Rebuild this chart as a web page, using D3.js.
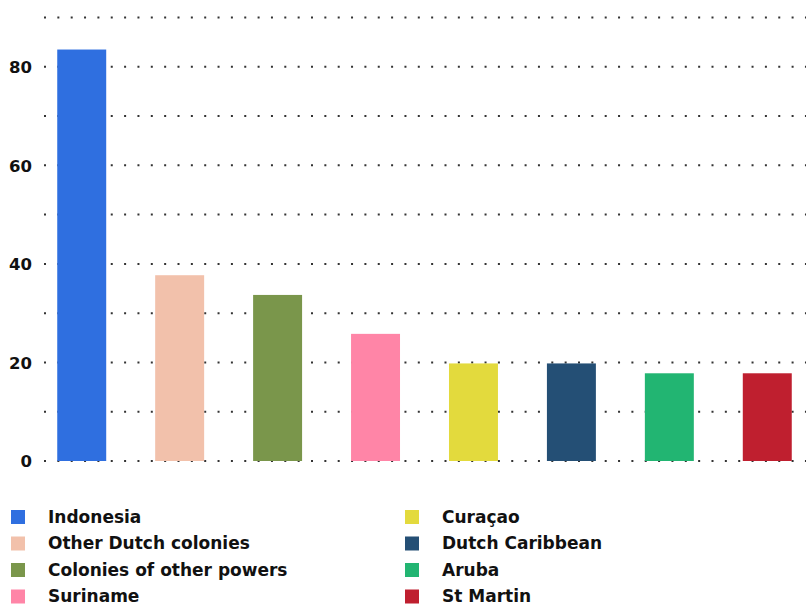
<!DOCTYPE html>
<html>
<head>
<meta charset="utf-8">
<script src="https://cdn.jsdelivr.net/npm/d3@7"></script>
<style>
  html, body { margin: 0; padding: 0; background: #fff; }
  svg { display: block; }
  text { font-family: "DejaVu Sans", sans-serif; font-weight: 700; fill: #111; }
</style>
</head>
<body>
<svg id="chart" width="806" height="607"></svg>
<script>
// Categories, values and colours
const categories = ["Indonesia", "Other Dutch colonies", "Colonies of other powers", "Suriname",
                    "Curaçao", "Dutch Caribbean", "Aruba", "St Martin"];
const values = [83.5, 37.7, 33.7, 25.8, 19.8, 19.8, 17.8, 17.8];
const colors = ["#2f6fe0", "#f2c1ab", "#7a964b", "#ff85a7", "#e3da3d", "#244f75", "#22b572", "#bf1f2f"];
const gridValues = [0, 10, 20, 30, 40, 50, 60, 70, 80, 90];
const tickValues = [0, 20, 40, 60, 80];

const svg = d3.select("#chart");

const y = d3.scaleLinear().domain([0, 90]).range([461, 17.5]);
const x = d3.scaleBand().domain(categories).range([45, 804])
  .paddingInner(0.5).paddingOuter(0.125);
const color = d3.scaleOrdinal().domain(categories).range(colors);

// Dotted gridlines
svg.append("g")
  .selectAll("line")
  .data(gridValues)
  .join("line")
  .attr("x1", 44)
  .attr("x2", 806)
  .attr("y1", d => y(d))
  .attr("y2", d => y(d))
  .attr("stroke", "#333")
  .attr("stroke-width", 2)
  .attr("stroke-dasharray", "2 11.35");

// Y axis labels
const yAxis = d3.axisLeft(y).tickValues(tickValues).tickSize(0).tickPadding(0);
svg.append("g")
  .attr("transform", "translate(32,0)")
  .call(yAxis)
  .call(g => g.select(".domain").remove())
  .call(g => g.selectAll("text")
    .attr("font-size", 16.5)
    .attr("font-family", "DejaVu Sans, sans-serif")
    .attr("font-weight", 700)
    .attr("fill", "#111")
    .attr("dy", "0.35em"));

// Bars
svg.append("g")
  .selectAll("rect")
  .data(categories)
  .join("rect")
  .attr("x", d => x(d))
  .attr("width", x.bandwidth())
  .attr("y", (d, i) => y(values[i]))
  .attr("height", (d, i) => y(0) - y(values[i]))
  .attr("fill", d => color(d));

// Legend in two columns of four
const legend = svg.append("g");
const items = legend.selectAll("g")
  .data(categories)
  .join("g")
  .attr("transform", (d, i) => {
    const col = Math.floor(i / 4), row = i % 4;
    return `translate(${col === 0 ? 11 : 405},${517 + row * 26.5})`;
  });
items.append("rect")
  .attr("x", 0).attr("y", -7)
  .attr("width", 14).attr("height", 14)
  .attr("fill", d => color(d));
items.append("text")
  .attr("x", 37)
  .attr("dy", "0.35em")
  .attr("font-size", 17)
  .text(d => d);
</script>
</body>
</html>
